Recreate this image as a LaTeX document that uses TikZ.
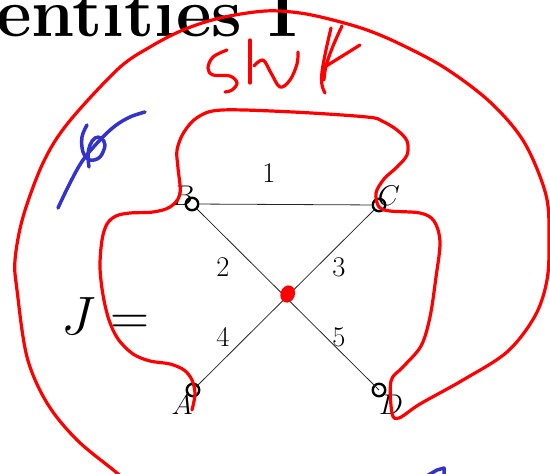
\RequirePackage{fix-cm}
\documentclass[tikz,border=0pt]{standalone}
\definecolor{inkred}{RGB}{255,0,0}
\definecolor{inkblue}{RGB}{51,51,204}
\tikzset{
  vert/.style={circle,draw=black,line width=2.4pt,minimum size=12.5pt,inner sep=0pt},
  edgeline/.style={line width=0.8pt,black!85},
  elab/.style={font=\fontsize{28.5}{34}\selectfont,inner sep=0pt},
  redink/.style={draw=inkred,line width=3.2pt,line cap=round,line join=round},
  blueink/.style={draw=inkblue,line width=3.5pt,line cap=round,line join=round},
}
\begin{document}
\begin{tikzpicture}[x=1pt,y=-1pt]
\clip (0,0) rectangle (550,474);
% title (cut by the page)
\node[anchor=base west,inner sep=0pt,font=\fontsize{69}{80}\selectfont\bfseries] (title) at (-4,36) {entities I};
% J =
\node[anchor=base west,inner sep=0pt,font=\fontsize{54}{64}\selectfont] (J) at (61,334) {$J =$};
% vertices
\node[vert] (B) at (192,204) {};
\node[vert] (C) at (379,205) {};
\node[vert] (A) at (193,390) {};
\node[vert] (D) at (379,390) {};
% edges
\draw[edgeline] (B) -- (C);
\draw[edgeline] (B) -- (D.center);
\draw[edgeline] (C) -- (A.center);
% vertex labels
\node[elab] (lB) at (183,196) {$B$};
\node[elab] (lC) at (389,196) {$C$};
\node[elab] (lA) at (182,405) {$A$};
\node[elab] (lD) at (391,405) {$D$};
% edge labels
\node[elab] (e1) at (269,173) {1};
\node[elab] (e2) at (223,267) {2};
\node[elab] (e3) at (339,267) {3};
\node[elab] (e4) at (223,337) {4};
\node[elab] (e5) at (339,337) {5};
% red dot at crossing
\fill[inkred,rotate around={-20:(287.7,294)}] (287.7,294) ellipse (7.2 and 8.8);
% red ink loop
\draw[redink] plot[smooth,tension=0.55] coordinates {
 (192,410) (195,394) (192,380) (184,370) (170,364) (150,361) (133,354) (118,339)
 (109,320) (103,295) (100,267) (102,240) (107,224) (116,216) (130,213) (153,212)
 (170,207) (180,194) (178,168) (177,150) (184,132) (198,117) (222,110) (293,112)
 (367,117) (382,121) (397,130) (407,141) (407,155) (397,167) (384,179) (376,193)
 (379,207) (390,211) (420,213) (434,221) (440,242) (436,277) (430,317) (421,346)
 (403,367) (391,381) (392,413) (399,418) (420,404) (463,380) (507,352) (535,316)
 (547,280) (549,240) (546,195) (524,142) (490,102) (445,68) (400,44) (367,30)
 (333,20) (300,13) (265,11) (220,18) (183,30) (150,47) (118,69) (68,123)
 (43,163) (23,217) (15,260) (17,290) (27,357) (47,403) (77,440) (117,473) (135,490)};
% red handwriting "shf"
\draw[redink] plot[smooth,tension=0.6] coordinates {(227,50) (213,57) (208,68) (213,75) (230,76) (237,83) (232,90) (225,92)};
\draw[redink] (250,40) -- (250,83);
\draw[redink] plot[smooth,tension=0.6] coordinates {(254,66) (263,60) (271,73) (280,87) (290,80) (297,64) (298,52)};
\draw[redink] plot[smooth,tension=0.6] coordinates {(331,28) (326,50) (322,72) (322,85) (325,93)};
\draw[redink] plot[smooth,tension=0.6] coordinates {(342,26) (333,46) (326,66) (324,80)};
\draw[redink] (323,68) -- (360,45);
% blue ink
\draw[blueink] plot[smooth,tension=0.6] coordinates {(58,208) (70,183) (83,160) (100,140) (115,126) (130,117) (145,112)};
\draw[blueink] plot[smooth,tension=0.6] coordinates {(87,125) (82,137) (83,152) (90,160) (100,157) (105,145) (101,138) (95,138) (90,145) (88,155) (89,167)};
\draw[blueink] (425,477) -- (437,470) -- (444,468) -- (444,477);
\end{tikzpicture}
\end{document}
